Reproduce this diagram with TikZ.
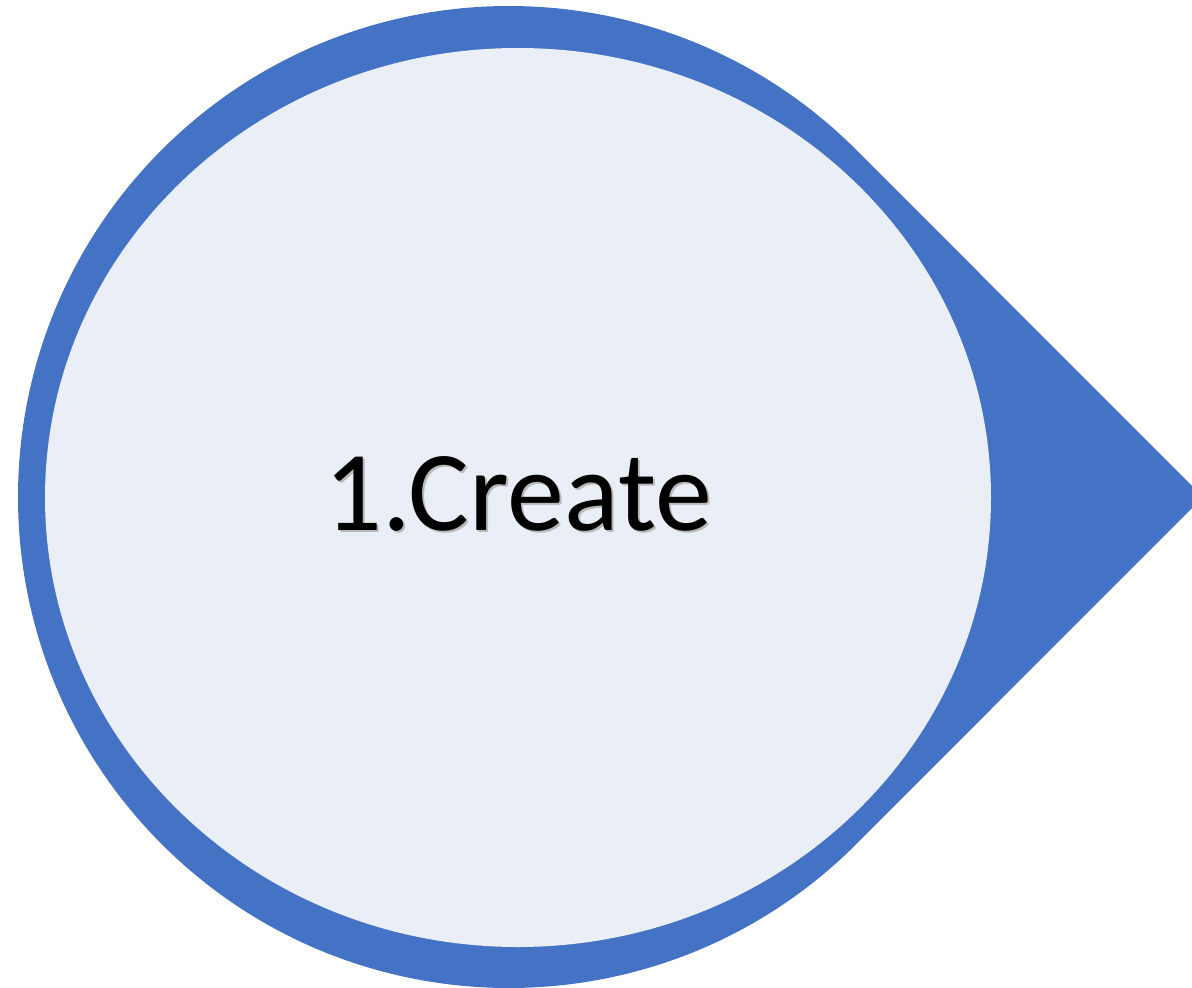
\documentclass[tikz,border=0pt]{standalone}
\usetikzlibrary{calc}
\usepackage{fontspec}
\setmainfont{Carlito}
\definecolor{dropblue}{HTML}{4472C4}
\definecolor{dropfill}{HTML}{EAEFF7}
\newcommand{\shadowtext}[1]{\rlap{\kern2pt\raisebox{-2pt}{\textcolor{black!28}{#1}}}#1}
\begin{document}
\begin{tikzpicture}[x=1pt,y=-1pt,
  labeltext/.style={font=\fontsize{114}{120}\selectfont, inner sep=0pt, anchor=base, text=black}]
\useasboundingbox (0,0) rectangle (1192,988);
% outer teardrop
\coordinate (c) at (509,497);
\coordinate (tip) at (1203,497);
\fill[dropblue] (tip) -- ($(c)+(-45:491)$) arc[start angle=-45, end angle=-315, radius=491] -- cycle;
% inner ellipse
\fill[dropfill] (518,497.5) ellipse[x radius=473, y radius=449.5];
% text with shadow
\node[labeltext] (label) at (518,530) {\shadowtext{1.Create}};
\end{tikzpicture}
\end{document}
